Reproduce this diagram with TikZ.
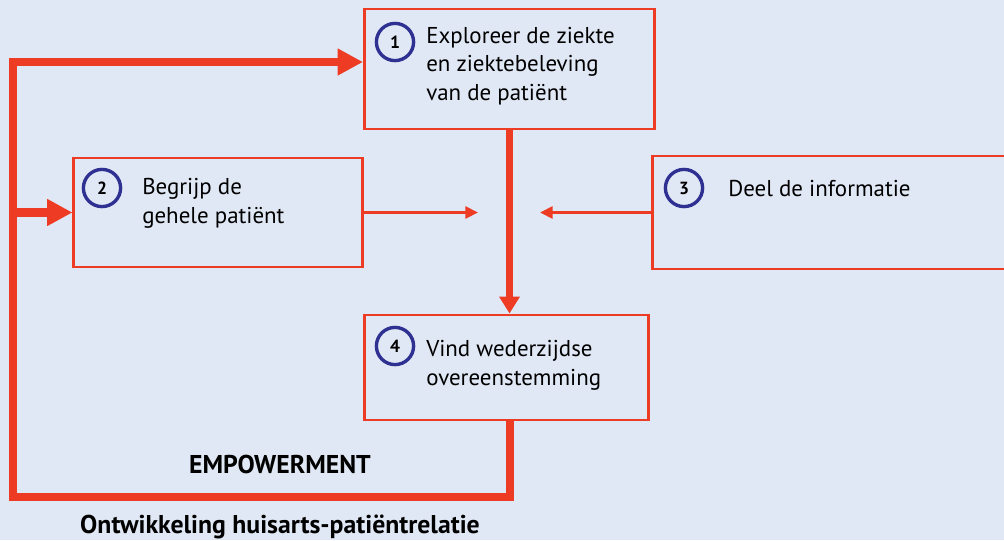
\documentclass[tikz,border=0pt]{standalone}
\usepackage{fontspec}
\setmainfont{PT Sans}
\usepackage{tikz}
\usetikzlibrary{arrows.meta,positioning}
\definecolor{linkred}{HTML}{EE3B24}
\definecolor{stepblue}{HTML}{2E3192}
\definecolor{pagebg}{HTML}{E1E8F5}

\begin{document}
\begin{tikzpicture}[
        x=0.025cm, y=-0.025cm,
        every node/.style={font=\fontsize{16.3}{20.2}\selectfont, inner sep=0pt},
        stepbox/.style={draw=linkred, line width=2.1pt, fill=pagebg},
        numring/.style={circle, draw=stepblue, line width=2.4pt, minimum size=0.93cm,
            font=\fontsize{12.5}{14}\selectfont\bfseries},
        steptxt/.style={anchor=base west, align=left},
        bigl/.style={draw=linkred, line width=5.7pt, -{Triangle[length=18pt,width=18pt]}},
        midl/.style={draw=linkred, line width=5pt, -{Triangle[length=12pt,width=14pt]}},
        thinl/.style={draw=linkred, line width=2.1pt, -{Triangle[length=9pt,width=8.5pt]}},
        headtxt/.style={font=\fontsize{18.3}{21}\selectfont\bfseries}
    ]
    \useasboundingbox (0,0) rectangle (1004,540);
    \clip (0,0) rectangle (1004,540);
    \fill[pagebg] (0,0) rectangle (1004,540);

    % =============== vier stappen ===============
    \node[stepbox, minimum width=7.25cm, minimum height=3cm] (b1) at (509.5,69) {};
    \node[stepbox, minimum width=7.2cm, minimum height=2.725cm] (b2) at (218,212.5) {};
    \node[stepbox, minimum width=9.05cm, minimum height=2.825cm] (b3) at (834,212.5) {};
    \node[stepbox, minimum width=7.075cm, minimum height=2.625cm] (b4) at (506.5,367.5) {};

    \node[numring] (n1) at (395,42) {1};
    \node[numring] (n2) at (102,188) {2};
    \node[numring] (n3) at (684,188) {3};
    \node[numring] (n4) at (395,346) {4};

    % basislijn van de laatste regel
    \node[steptxt] (t1) at (426,100) {Exploreer de ziekte\\en ziektebeleving\\van de patiënt};
    \node[steptxt] (t2) at (142,223) {Begrijp de\\gehele patiënt};
    \node[steptxt] (t3) at (728,196) {Deel de informatie};
    \node[steptxt] (t4) at (426,385) {Vind wederzijdse\\overeenstemming};

    % =============== pijlen ===============
    \coordinate (lp) at (13,497);
    \coordinate (m2) at (478,212.5);
    \coordinate (m3) at (540,212.5);

    \draw[midl] (b1.south) -- (b1.south |- b4.north);
    \draw[thinl] (b2.east) -- (m2);
    \draw[thinl] (b3.west) -- (m3);

    % lus: empowerment terug naar stap 1
    \draw[bigl] (b4.south -| b1.south) |- (lp) |- (b1.west |- 0,62);
    \draw[bigl] (b2.west -| lp) -- (b2.west);

    \node[headtxt, anchor=base] (emp) at (280,473) {EMPOWERMENT};
    \node[headtxt, anchor=base] (rel) at (280,533) {Ontwikkeling huisarts-patiëntrelatie};
\end{tikzpicture}
\end{document}
